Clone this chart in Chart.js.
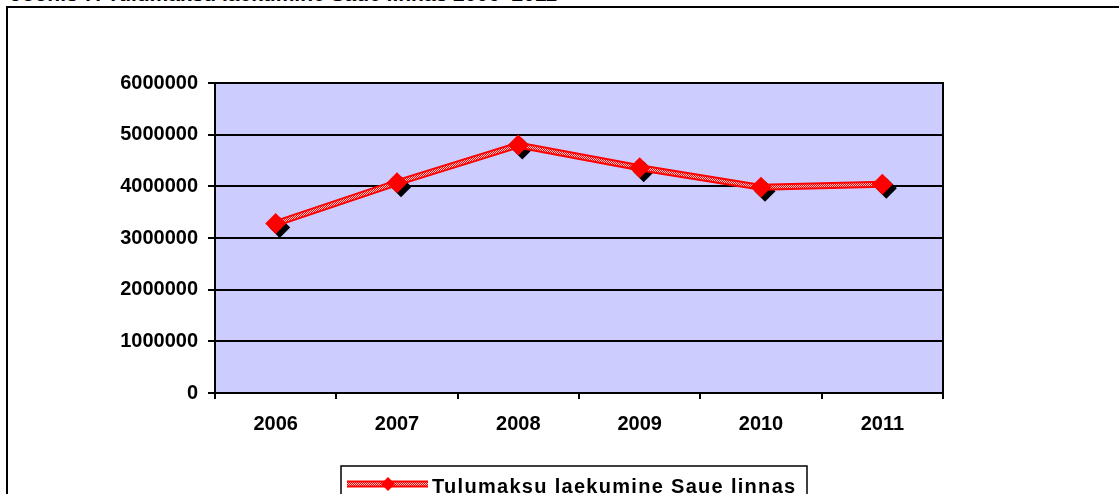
<!DOCTYPE html>
<html>
<head>
<meta charset="utf-8">
<script src="https://cdn.jsdelivr.net/npm/chart.js@4/dist/chart.umd.min.js"></script>
<style>
  html, body { margin: 0; padding: 0; background: #fff; overflow: hidden; }
  #wrap { position: relative; width: 1119px; height: 494px; overflow: hidden; }
  #frame { position: absolute; left: 6px; top: 6px; width: 1200px; height: 600px; border: 2.5px solid #000; box-sizing: border-box; }
  #cap { position: absolute; left: 10px; top: -18px; height: 21px; line-height: 21px; font: bold 21px "Liberation Sans", Arial, sans-serif; color: #000; white-space: nowrap; }
  canvas { position: absolute; left: 0; top: 0; }
</style>
</head>
<body>
<div id="wrap">
  <div id="cap">Joonis 7. Tulumaksu laekumine Saue linnas 2006–2011</div>
  <div id="frame"></div>
  <canvas id="c" width="1119" height="494"></canvas>
</div>
<script>
const years = ["2006", "2007", "2008", "2009", "2010", "2011"];
const tulumaks = [3280000, 4070000, 4800000, 4360000, 3980000, 4040000];
const seriesName = "Tulumaksu laekumine Saue linnas";
const yTicks = [0, 1000000, 2000000, 3000000, 4000000, 5000000, 6000000];

// dotted (hatched) inner pattern of the line
function makePattern() {
  const p = document.createElement('canvas');
  p.width = 2; p.height = 2;
  const g = p.getContext('2d');
  g.fillStyle = '#ff0000'; g.fillRect(0, 0, 2, 2);
  g.fillStyle = '#ffd0d0'; g.fillRect(0, 0, 1, 1); g.fillRect(1, 1, 1, 1);
  return document.getElementById('c').getContext('2d').createPattern(p, 'repeat');
}
const pat = makePattern();

function diamond(ctx, x, y, r, color) {
  ctx.beginPath();
  ctx.moveTo(x, y - r); ctx.lineTo(x + r, y); ctx.lineTo(x, y + r); ctx.lineTo(x - r, y);
  ctx.closePath();
  ctx.fillStyle = color; ctx.fill();
}

const bgPlugin = {
  id: 'bgPlugin',
  beforeDraw(chart) {
    const { ctx, chartArea: a } = chart;
    ctx.save();
    ctx.fillStyle = '#ccccff';
    ctx.fillRect(a.left, a.top, a.right - a.left, a.bottom - a.top);
    ctx.restore();
  },
  beforeDatasetsDraw(chart) {
    const ctx = chart.ctx;
    ctx.save();
    chart.getDatasetMeta(0).data.forEach(pt => diamond(ctx, pt.x + 4, pt.y + 4, 10.5, '#000'));
    ctx.restore();
  },
  afterDraw(chart) {
    const { ctx, chartArea: a } = chart;
    ctx.save();
    ctx.strokeStyle = '#000'; ctx.lineWidth = 2;
    ctx.beginPath(); ctx.moveTo(a.right, a.top - 1); ctx.lineTo(a.right, a.bottom + 6); ctx.stroke();
    // legend
    const lx = 341, ly = 466;
    ctx.lineWidth = 1.5;
    ctx.strokeRect(lx, ly, 466, 60);
    ctx.strokeStyle = '#ff0000'; ctx.lineWidth = 7;
    ctx.beginPath(); ctx.moveTo(347, 484); ctx.lineTo(428, 484); ctx.stroke();
    ctx.strokeStyle = pat; ctx.lineWidth = 3;
    ctx.beginPath(); ctx.moveTo(347, 484); ctx.lineTo(428, 484); ctx.stroke();
    diamond(ctx, 388, 484, 7, '#ff0000');
    ctx.fillStyle = '#000';
    ctx.font = 'bold 20px "Liberation Sans", Arial, sans-serif';
    ctx.textBaseline = 'alphabetic';
    ctx.textAlign = 'left';
    if ('letterSpacing' in ctx) ctx.letterSpacing = '1.3px';
    ctx.fillText(seriesName, 432, 493);
    ctx.restore();
  }
};

const tickFont = { family: '"Liberation Sans", Arial, sans-serif', weight: 'bold', size: 20 };

new Chart(document.getElementById('c'), {
  type: 'line',
  data: {
    labels: years,
    datasets: [{
      label: seriesName,
      data: tulumaks,
      borderColor: pat,
      borderWidth: 3,
      pointStyle: 'rectRot',
      pointRadius: 10.5,
      pointHoverRadius: 10.5,
      pointBackgroundColor: '#ff0000',
      pointBorderColor: '#ff0000',
      pointBorderWidth: 0,
      tension: 0,
      fill: false
    }, {
      label: seriesName + ' (edge)',
      data: tulumaks,
      borderColor: '#ff0000',
      borderWidth: 7,
      pointRadius: 0,
      tension: 0,
      fill: false
    }]
  },
  options: {
    responsive: false,
    animation: false,
    events: [],
    layout: { padding: { left: 0, top: 83, right: 176, bottom: 0 } },
    plugins: { legend: { display: false }, tooltip: { enabled: false }, title: { display: false } },
    scales: {
      x: {
        type: 'category',
        offset: true,
        afterFit(s) { s.height = 101; },
        grid: { offset: true, drawOnChartArea: false, drawTicks: true, tickLength: 6, color: '#000', lineWidth: 2 },
        border: { display: true, color: '#000', width: 2 },
        ticks: { color: '#000', padding: 13, maxRotation: 0, font: tickFont }
      },
      y: {
        min: 0, max: 6000000,
        afterFit(s) { s.width = 215; },
        afterBuildTicks(s) { s.ticks = yTicks.map(v => ({ value: v })); },
        grid: { color: '#000', lineWidth: 2, tickLength: 7, drawTicks: true },
        border: { display: true, color: '#000', width: 2 },
        ticks: { color: '#000', padding: 10, font: tickFont, callback: v => String(v) }
      }
    }
  },
  plugins: [bgPlugin]
});
</script>
</body>
</html>
